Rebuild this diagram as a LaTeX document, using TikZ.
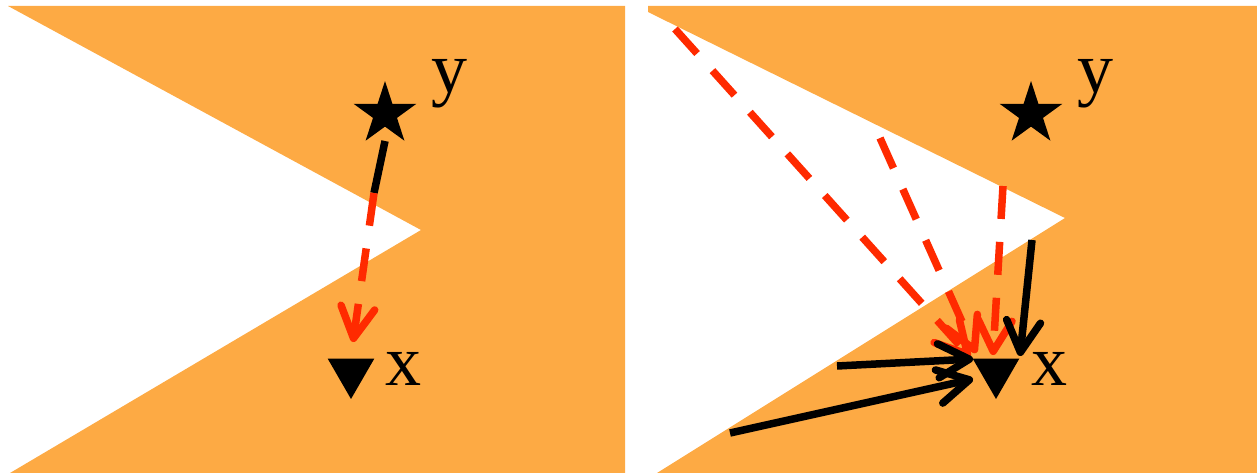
\documentclass[tikz,border=0pt]{standalone}
\usepackage{fontspec}
\setmainfont{Liberation Serif}
\usetikzlibrary{arrows.meta,shapes.geometric}
\definecolor{orng}{RGB}{253,170,68}
\definecolor{redc}{RGB}{255,42,0}
\tikzset{
  bg/.style={fill=orng, draw=none},
  ray/.style={line width=0.15cm, draw=black},
  redray/.style={line width=0.15cm, draw=redc, dash pattern=on 0.66cm off 0.46cm},
  tipped/.style={-{Straight Barb[length=0.62cm,width=0.68cm,round]}},
  starmark/.style={shape=star, star points=5, star point ratio=2.618, fill=black, draw=none, minimum size=1.32cm, inner sep=0pt},
  trimark/.style={regular polygon, regular polygon sides=3, shape border rotate=180, fill=black, draw=none, minimum size=1.08cm, inner sep=0pt},
  lbl/.style={font=\fontsize{41}{41}\selectfont, anchor=base, inner sep=0pt}
}
\begin{document}
\begin{tikzpicture}[x=0.02cm, y=-0.02cm]
\useasboundingbox (0,0) rectangle (1257,473);
% backgrounds
\fill[bg] (8,6) -- (625,6) -- (625,473) -- (10,473) -- (421,230) -- cycle;
\fill[bg] (648,6) -- (1257,6) -- (1257,473) -- (657,473) -- (1065,218) -- (648,12) -- cycle;
% left panel
\node[starmark] (starL) at (385,114) {};
\node[trimark] (triL) at (351,372) {};
\node[lbl] (yL) at (450,92) {y};
\node[lbl] (xL) at (404,385) {x};
\coordinate (aL0) at (385,141);
\coordinate (aL1) at (374,193);
\coordinate (aL2) at (353,342);
\draw[ray] (aL0) -- (aL1);
\draw[redray, tipped] (aL1) -- (aL2);
% right panel
\node[starmark] (starR) at (1031,114) {};
\node[trimark] (triR) at (996,372) {};
\node[lbl] (yR) at (1095,92) {y};
\node[lbl] (xR) at (1049,385) {x};
\coordinate (r1a) at (675,29);
\coordinate (r1b) at (970,357);
\coordinate (r2a) at (880,138);
\coordinate (r2b) at (976,353);
\coordinate (r3a) at (1003,186);
\coordinate (r3b) at (993,355);
\coordinate (b1a) at (1032,240);
\coordinate (b1b) at (1020,356);
\coordinate (b2a) at (837,366);
\coordinate (b2b) at (973,359);
\coordinate (b3a) at (730,433);
\coordinate (b3b) at (973,379);
\draw[redray, tipped] (r1a) -- (r1b);
\draw[redray, tipped] (r2a) -- (r2b);
\draw[redray, tipped] (r3a) -- (r3b);
\draw[ray, tipped] (b1a) -- (b1b);
\draw[ray, tipped] (b2a) -- (b2b);
\draw[ray, tipped] (b3a) -- (b3b);
\end{tikzpicture}
\end{document}
